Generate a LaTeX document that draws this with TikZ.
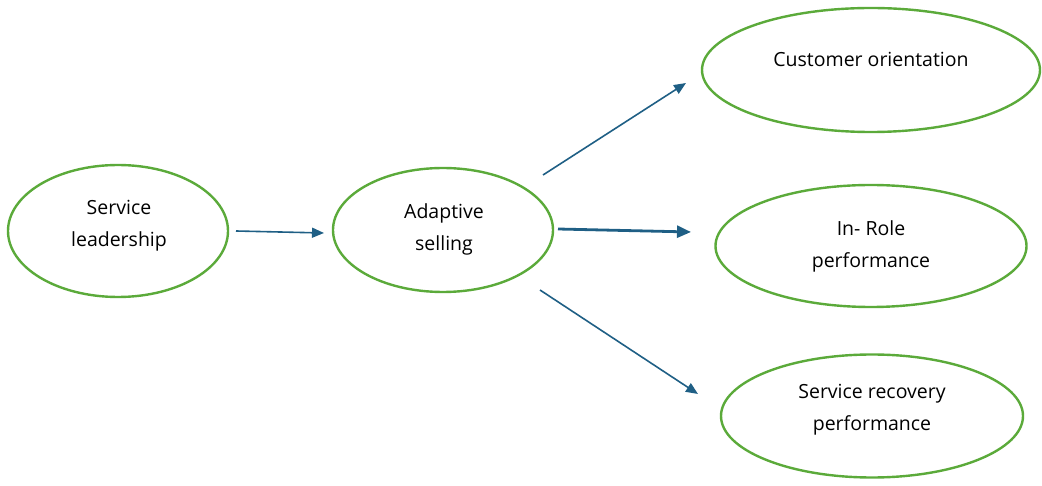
\documentclass[tikz,border=0pt]{standalone}
\usepackage{fontspec}
\setmainfont{Open Sans}
\usetikzlibrary{shapes.geometric,arrows.meta}
\definecolor{egreen}{HTML}{5BAA3A}
\definecolor{ablue}{HTML}{1F5F85}
\begin{document}
\begin{tikzpicture}[x=1pt,y=-1pt,
  oval/.style={draw=egreen,line width=2.4pt,ellipse,inner sep=0pt},
  lbl/.style={font=\fontsize{19.5}{32}\selectfont,align=center,text=black,inner sep=0pt},
  conn/.style={draw=ablue,line width=1.6pt,-{Triangle[length=12pt,width=10pt]}},
  connthick/.style={draw=ablue,line width=2.8pt,-{Triangle[length=14pt,width=12pt]}}]
\useasboundingbox (0,0) rectangle (1042,486);
\node[oval,minimum width=220pt,minimum height=132pt] (sl) at (118,231) {};
\node[oval,minimum width=220pt,minimum height=124pt] (as) at (443,230) {};
\node[oval,minimum width=338pt,minimum height=124pt] (co) at (871,70) {};
\node[oval,minimum width=311pt,minimum height=122pt] (ir) at (871,246) {};
\node[oval,minimum width=302pt,minimum height=123pt] (sr) at (872,416) {};
\node[lbl] (slt) at (119,226) {Service\\leadership};
\node[lbl] (ast) at (444,229) {Adaptive\\selling};
\node[lbl] (cot) at (871,59) {Customer orientation};
\node[lbl] (irt) at (871,246) {In- Role\\performance};
\node[lbl] (srt) at (872,410) {Service recovery\\performance};
\coordinate (a1s) at (236,231);
\coordinate (a1e) at (324,233);
\coordinate (a2s) at (543,175);
\coordinate (a2e) at (686,83);
\coordinate (a3s) at (558,229);
\coordinate (a3e) at (691,232);
\coordinate (a4s) at (540,290);
\coordinate (a4e) at (698,394);
\draw[conn] (a1s) -- (a1e);
\draw[conn] (a2s) -- (a2e);
\draw[connthick] (a3s) -- (a3e);
\draw[conn] (a4s) -- (a4e);
\end{tikzpicture}
\end{document}
